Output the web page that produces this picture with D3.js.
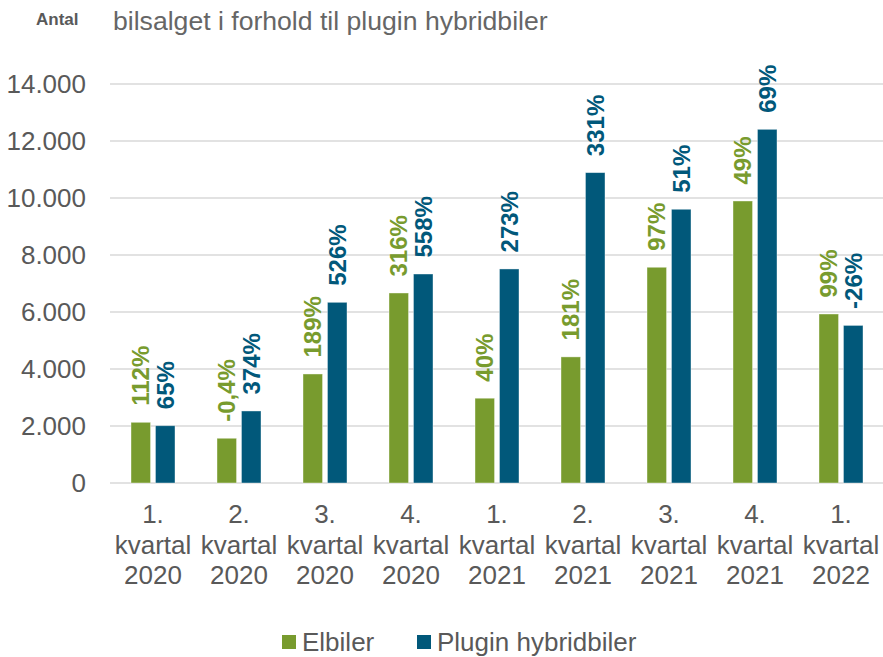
<!DOCTYPE html>
<html>
<head>
<meta charset="utf-8">
<script src="https://cdn.jsdelivr.net/npm/d3@7"></script>
<style>
  body { margin: 0; background: #fff; }
  text { font-family: "Liberation Sans", Arial, sans-serif; }
</style>
</head>
<body>
<div id="chart"></div>
<script>
// Kvartaler (x-akse), hver label i tre linjer
const quarters = ['1.|kvartal|2020', '2.|kvartal|2020', '3.|kvartal|2020', '4.|kvartal|2020',
  '1.|kvartal|2021', '2.|kvartal|2021', '3.|kvartal|2021', '4.|kvartal|2021', '1.|kvartal|2022'];
const seriesNames = ['Elbiler', 'Plugin hybridbiler'];
const elbiler = [2130, 1570, 3825, 6667, 2975, 4425, 7570, 9895, 5930];
const plugin = [2010, 2527, 6340, 7333, 7510, 10890, 9605, 12410, 5530];
const elbilerPct = ['112%', '-0,4%', '189%', '316%', '40%', '181%', '97%', '49%', '99%'];
const pluginPct = ['65%', '374%', '526%', '558%', '273%', '331%', '51%', '69%', '-26%'];
const yTicks = [0, 2000, 4000, 6000, 8000, 10000, 12000, 14000];

const width = 883, height = 657;
const colors = { Elbiler: '#789b2e', 'Plugin hybridbiler': '#01587a' };
const textGrey = '#595959';

const svg = d3.select('#chart').append('svg')
  .attr('width', width)
  .attr('height', height);

// Overskrift (kun anden linje er synlig)
svg.append('text')
  .attr('x', 36).attr('y', 25)
  .attr('font-size', 17).attr('font-weight', 'bold')
  .attr('fill', textGrey)
  .text('Antal');
svg.append('text')
  .attr('x', 113).attr('y', 30)
  .attr('font-size', 26.6)
  .attr('fill', '#666')
  .text('bilsalget i forhold til plugin hybridbiler');

const x0 = d3.scaleBand().domain(quarters).range([110, 884]).padding(0);
const x1 = d3.scaleBand().domain(seriesNames).range([-22, 22]).paddingInner(0.2);
const y = d3.scaleLinear().domain([0, 14000]).range([483, 84]);

const locale = d3.formatLocale({ decimal: ',', thousands: '.', grouping: [3], currency: ['', ' kr.'] });
const fmt = locale.format(',d');

// Gitterlinjer
svg.append('g').selectAll('line')
  .data(yTicks)
  .enter().append('line')
  .attr('x1', 110).attr('x2', 883)
  .attr('y1', d => y(d)).attr('y2', d => y(d))
  .attr('stroke', '#d9d9d9')
  .attr('stroke-width', 1.5);

// Y-akse labels
svg.append('g').selectAll('text')
  .data(yTicks)
  .enter().append('text')
  .attr('x', 86)
  .attr('y', d => y(d))
  .attr('dy', '0.36em')
  .attr('text-anchor', 'end')
  .attr('font-size', 26)
  .attr('fill', textGrey)
  .text(d => fmt(d));

// X-akse labels
const xl = svg.append('g').selectAll('text')
  .data(quarters)
  .enter().append('text')
  .attr('text-anchor', 'middle')
  .attr('font-size', 26)
  .attr('fill', textGrey);
xl.each(function(d) {
  const cx = x0(d) + x0.bandwidth() / 2;
  d.split('|').forEach((line, i) => {
    d3.select(this).append('tspan')
      .attr('x', cx)
      .attr('y', 523 + i * 30.5)
      .text(line);
  });
});

// Søjler
const rows = quarters.map((q, i) => ({
  q,
  vals: [
    { key: 'Elbiler', v: elbiler[i], pct: elbilerPct[i] },
    { key: 'Plugin hybridbiler', v: plugin[i], pct: pluginPct[i] }
  ]
}));

const groups = svg.append('g').selectAll('g')
  .data(rows)
  .enter().append('g')
  .attr('transform', d => `translate(${x0(d.q) + x0.bandwidth() / 2},0)`);

groups.selectAll('rect')
  .data(d => d.vals)
  .enter().append('rect')
  .attr('x', d => x1(d.key))
  .attr('width', x1.bandwidth())
  .attr('y', d => y(d.v))
  .attr('height', d => y(0) - y(d.v))
  .attr('fill', d => colors[d.key])
  .attr('stroke', 'rgba(255,255,255,0.5)')
  .attr('stroke-width', 0.8);

// Procent-labels (roteret)
groups.selectAll('text')
  .data(d => d.vals)
  .enter().append('text')
  .attr('transform', d => `translate(${x1(d.key) + x1.bandwidth() / 2},${y(d.v) - 16.5}) rotate(-90)`)
  .attr('dy', '0.36em')
  .attr('text-anchor', 'start')
  .attr('font-size', 24)
  .attr('font-weight', 'bold')
  .attr('fill', d => colors[d.key])
  .text(d => d.pct);

// Legende
const legend = svg.append('g');
const legendX = [282, 417];
seriesNames.forEach((name, i) => {
  legend.append('rect')
    .attr('x', legendX[i]).attr('y', 635)
    .attr('width', 14).attr('height', 14)
    .attr('fill', colors[name]);
  legend.append('text')
    .attr('x', legendX[i] + 20).attr('y', 651)
    .attr('font-size', 26)
    .attr('fill', textGrey)
    .text(name);
});
</script>
</body>
</html>
